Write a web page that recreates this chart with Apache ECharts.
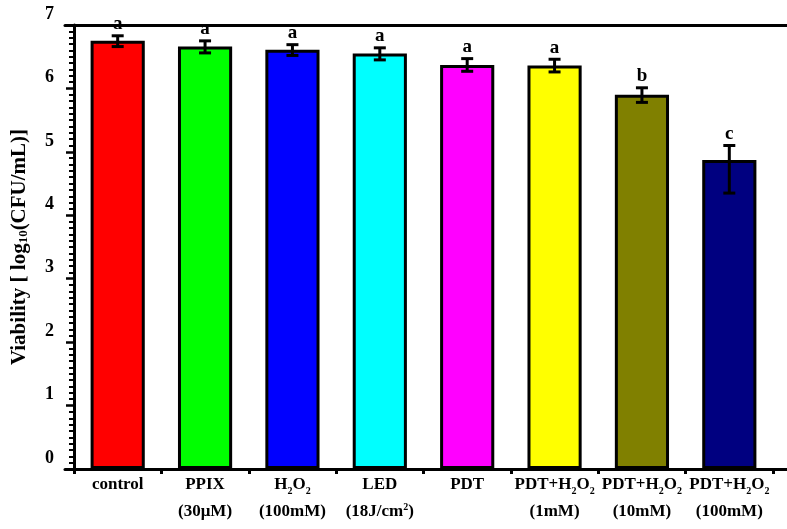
<!DOCTYPE html>
<html>
<head>
<meta charset="utf-8">
<script src="https://cdn.jsdelivr.net/npm/echarts@6/dist/echarts.min.js"></script>
<style>
html,body{margin:0;padding:0;background:#fff;}
#chart{width:787px;height:529px;}
</style>
</head>
<body>
<div id="chart"></div>
<script>
// ---- data ----
var categories = ['control', 'PPIX (30μM)', 'H2O2 (100mM)', 'LED (18J/cm2)', 'PDT',
                  'PDT+H2O2 (1mM)', 'PDT+H2O2 (10mM)', 'PDT+H2O2 (100mM)'];
var tickLabels = [
  '{b|control}',
  '{b|PPIX}\n{b|(30μM)}',
  '{b|H}{sub|2}{b|O}{sub|2}\n{b|(100mM)}',
  '{b|LED}\n{b|(18J/cm}{sup|2}{b|)}',
  '{b|PDT}',
  '{b|PDT+H}{sub|2}{b|O}{sub|2}\n{b|(1mM)}',
  '{b|PDT+H}{sub|2}{b|O}{sub|2}\n{b|(10mM)}',
  '{b|PDT+H}{sub|2}{b|O}{sub|2}\n{b|(100mM)}'
];
var values   = [6.75, 6.66, 6.61, 6.55, 6.37, 6.36, 5.90, 4.87];
var errUp    = [0.08, 0.09, 0.08, 0.09, 0.10, 0.10, 0.11, 0.23];
var errDown  = [0.09, 0.10, 0.09, 0.10, 0.10, 0.10, 0.12, 0.52];
var letters  = ['a', 'a', 'a', 'a', 'a', 'a', 'b', 'c'];
var barColors = ['#FF0000', '#00FF00', '#0000FF', '#00FFFF', '#FF00FF', '#FFFF00', '#808000', '#000080'];
var yTicks = [0, 1, 2, 3, 4, 5, 6, 7];

var FONT = '"Liberation Serif", "Times New Roman", serif';
var chart = echarts.init(document.getElementById('chart'), null, {renderer: 'canvas'});

var barData = values.map(function (v, i) {
  return {value: v, itemStyle: {color: barColors[i]}};
});
var errData = values.map(function (v, i) {
  return [i, v - errDown[i], v + errUp[i]];
});

var option = {
  backgroundColor: '#fff',
  animation: false,
  grid: [
    {left: 74, right: 14, top: 25, bottom: 60},
    {left: 65, right: 0, top: 25, bottom: 60}
  ],
  xAxis: [
    {
      type: 'category', gridIndex: 0, data: categories, boundaryGap: true,
      axisLine: {show: true, lineStyle: {color: '#000', width: 3}},
      axisTick: {show: true, length: 5, inside: false, lineStyle: {color: '#000', width: 3}},
      axisLabel: {
        interval: 0, margin: 2, color: '#000',
        formatter: function (val, idx) { return tickLabels[idx]; },
        rich: {
          b: {fontFamily: FONT, fontWeight: 'bold', fontSize: 17, lineHeight: 27, color: '#000'},
          sub: {fontFamily: FONT, fontWeight: 'bold', fontSize: 10, verticalAlign: 'bottom', padding: [0, 0, 2, 0], color: '#000'},
          sup: {fontFamily: FONT, fontWeight: 'bold', fontSize: 10, verticalAlign: 'top', padding: [4, 0, 0, 0], color: '#000'}
        }
      },
      splitLine: {show: false}
    },
    {
      type: 'value', gridIndex: 1, position: 'bottom', min: 0, max: 1,
      axisLine: {show: true, onZero: false, lineStyle: {color: '#000', width: 3}},
      axisTick: {show: false}, axisLabel: {show: false}, splitLine: {show: false}
    },
    {
      type: 'value', gridIndex: 1, position: 'top', min: 0, max: 1,
      axisLine: {show: true, onZero: false, lineStyle: {color: '#000', width: 3}},
      axisTick: {show: false}, axisLabel: {show: false}, splitLine: {show: false}
    }
  ],
  yAxis: [
    {
      type: 'value', gridIndex: 0, min: yTicks[0], max: yTicks[yTicks.length - 1], interval: 1,
      name: 'Viability [ log{sub|10}(CFU/mL)]',
      nameLocation: 'middle', nameGap: 44, nameRotate: 90,
      nameTextStyle: {
        fontFamily: FONT, fontWeight: 'bold', fontSize: 21, color: '#000',
        rich: {
          sub: {fontFamily: FONT, fontWeight: 'bold', fontSize: 13, verticalAlign: 'bottom', color: '#000'}
        }
      },
      axisLine: {show: true, lineStyle: {color: '#000', width: 3}},
      axisTick: {show: true, length: 8, inside: false, lineStyle: {color: '#000', width: 2.5}},
      minorTick: {show: true, splitNumber: 10, length: 5, lineStyle: {color: '#000', width: 2}},
      axisLabel: {
        color: '#000', margin: 20,
        formatter: function (v) { return '{v|' + v + '}'; },
        rich: {
          v: {fontFamily: FONT, fontWeight: 'bold', fontSize: 18, color: '#000', padding: [0, 0, 22, 0]}
        }
      },
      splitLine: {show: false}
    },
    {
      type: 'value', gridIndex: 1, min: 0, max: 1, show: false
    }
  ],
  series: [
    {
      type: 'bar', xAxisIndex: 0, yAxisIndex: 0, data: barData,
      barWidth: '62%',
      itemStyle: {borderColor: '#000', borderWidth: 3},
      z: 2
    },
    {
      type: 'custom', xAxisIndex: 0, yAxisIndex: 0, data: errData, z: 5,
      renderItem: function (params, api) {
        var i = api.value(0);
        var lo = api.coord([i, api.value(1)]);
        var hi = api.coord([i, api.value(2)]);
        var cap = 6;
        var st = {stroke: '#000', lineWidth: 3};
        return {
          type: 'group',
          children: [
            {type: 'line', shape: {x1: lo[0], y1: lo[1], x2: hi[0], y2: hi[1]}, style: st},
            {type: 'line', shape: {x1: lo[0] - cap, y1: lo[1], x2: lo[0] + cap, y2: lo[1]}, style: st},
            {type: 'line', shape: {x1: hi[0] - cap, y1: hi[1], x2: hi[0] + cap, y2: hi[1]}, style: st},
            {type: 'text', x: hi[0], y: hi[1] - 2,
             style: {text: letters[params.dataIndex], fill: '#000', font: 'bold 19px ' + FONT,
                     align: 'center', verticalAlign: 'bottom'}}
          ]
        };
      }
    }
  ]
};
chart.setOption(option);
</script>
</body>
</html>
